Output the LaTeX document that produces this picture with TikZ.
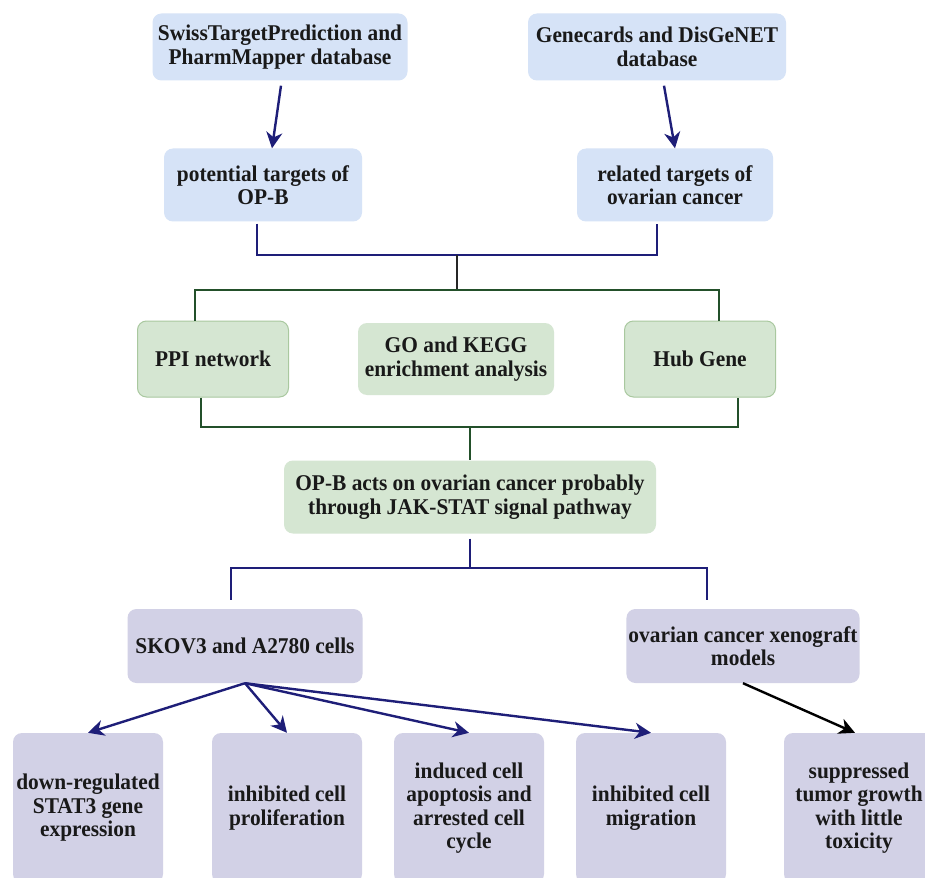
\documentclass[tikz,border=0pt]{standalone}
\usepackage{fontspec}
\setmainfont{Liberation Serif}[FakeStretch=0.95]
\usepackage{tikz}
\usetikzlibrary{arrows.meta}

\definecolor{boxblau}{HTML}{D6E3F7}
\definecolor{boxgruen}{HTML}{D5E6D2}
\definecolor{randgruen}{HTML}{A9C89F}
\definecolor{boxlila}{HTML}{D2D1E6}
\definecolor{linieblau}{HTML}{1E1E78}
\definecolor{liniegruen}{HTML}{23502A}

\begin{document}
\begin{tikzpicture}[x=1pt, y=-1pt,
    box/.style={rounded corners=9pt, align=center, inner sep=2pt, text=black!90,
        font=\fontsize{22.5}{23.5}\selectfont\bfseries},
    blau/.style={box, fill=boxblau},
    gruen/.style={box, fill=boxgruen},
    lila/.style={box, fill=boxlila},
    pfeil/.style={-{Stealth[length=16pt,width=16pt,inset=5pt]}, line width=2.4pt, draw=linieblau},
    blaulinie/.style={line width=2.4pt, draw=linieblau},
    gruenlinie/.style={line width=2.4pt, draw=liniegruen}]

    % Rahmen des Bildes
    \clip (0,0) rectangle (925,877);
    \fill[white] (0,0) rectangle (925,877);

    % Datenbanken
    \node[blau, minimum width=255pt, minimum height=67pt] (swiss) at (280,47)
        {SwissTargetPrediction and\\PharmMapper database};
    \node[blau, minimum width=258pt, minimum height=67pt] (gene) at (657,47)
        {Genecards and DisGeNET\\database};

    % Zielstrukturen
    \node[blau, minimum width=198pt, minimum height=73pt] (pot) at (263,185)
        {potential targets of\\OP-B};
    \node[blau, minimum width=196pt, minimum height=73pt] (rel) at (675,185)
        {related targets of\\ovarian cancer};
    \draw[pfeil] ([xshift=1pt,yshift=-5pt]swiss.south) -- ([xshift=9pt]pot.north);
    \draw[pfeil] ([xshift=7pt,yshift=-5pt]gene.south) -- (rel.north);

    % Zusammenfuehrung der Targets
    \coordinate (j1) at (457,255);
    \coordinate (j2) at (457,290);
    \draw[blaulinie] ([xshift=-6pt,yshift=-2pt]pot.south) |- (j1)
        -| ([xshift=-18pt,yshift=-2pt]rel.south);
    \draw[line width=2.4pt, draw=black!85] (j1) -- (j2);

    % Netzwerkanalyse
    \node[gruen, draw=randgruen, line width=1pt, minimum width=151pt, minimum height=76pt]
        (ppi) at (213,359) {PPI network};
    \node[gruen, minimum width=196pt, minimum height=72pt] (go) at (456,359)
        {GO and KEGG\\enrichment analysis};
    \node[gruen, draw=randgruen, line width=1pt, minimum width=151pt, minimum height=76pt]
        (hub) at (700,359) {Hub Gene};
    \draw[gruenlinie] ([xshift=-18pt]ppi.north) |- (j2) -| ([xshift=19pt]hub.north);

    % Ergebnis der Analyse
    \node[gruen, minimum width=372pt, minimum height=73pt] (opb) at (470,497)
        {OP-B acts on ovarian cancer probably\\through JAK-STAT signal pathway};
    \coordinate (j3) at (470,427);
    \draw[gruenlinie] ([xshift=-12pt]ppi.south) |- (j3) -| ([xshift=38pt]hub.south);
    \draw[gruenlinie] (j3) -- (opb.north);

    % Experimente
    \node[lila, minimum width=235pt, minimum height=74pt] (skov) at (245,646)
        {SKOV3 and A2780 cells};
    \node[lila, minimum width=233pt, minimum height=74pt] (xeno) at (743,646)
        {ovarian cancer xenograft\\models};
    \coordinate (j4) at (470,568);
    \draw[blaulinie] ([yshift=-5pt]opb.south) -- (j4);
    \draw[blaulinie] ([xshift=-14pt,yshift=9pt]skov.north) |- (j4)
        -| ([xshift=-36pt,yshift=9pt]xeno.north);

    % Auswirkungen
    \foreach \n/\x/\t in {b1/88/{down-regulated\\STAT3 gene\\expression},
                          b2/287/{inhibited cell\\proliferation},
                          b3/469/{induced cell\\apoptosis and\\arrested cell\\cycle},
                          b4/651/{inhibited cell\\migration},
                          b5/859/{suppressed\\tumor growth\\with little\\toxicity}}
        \node[lila, minimum width=150pt, minimum height=150pt] (\n) at (\x,808) {\t};

    \foreach \n in {b1,b2,b3,b4}
        \draw[pfeil] (skov.south) -- (\n.north);
    \draw[pfeil, draw=black] (xeno.south) -- ([xshift=-4pt]b5.north);

\end{tikzpicture}
\end{document}
